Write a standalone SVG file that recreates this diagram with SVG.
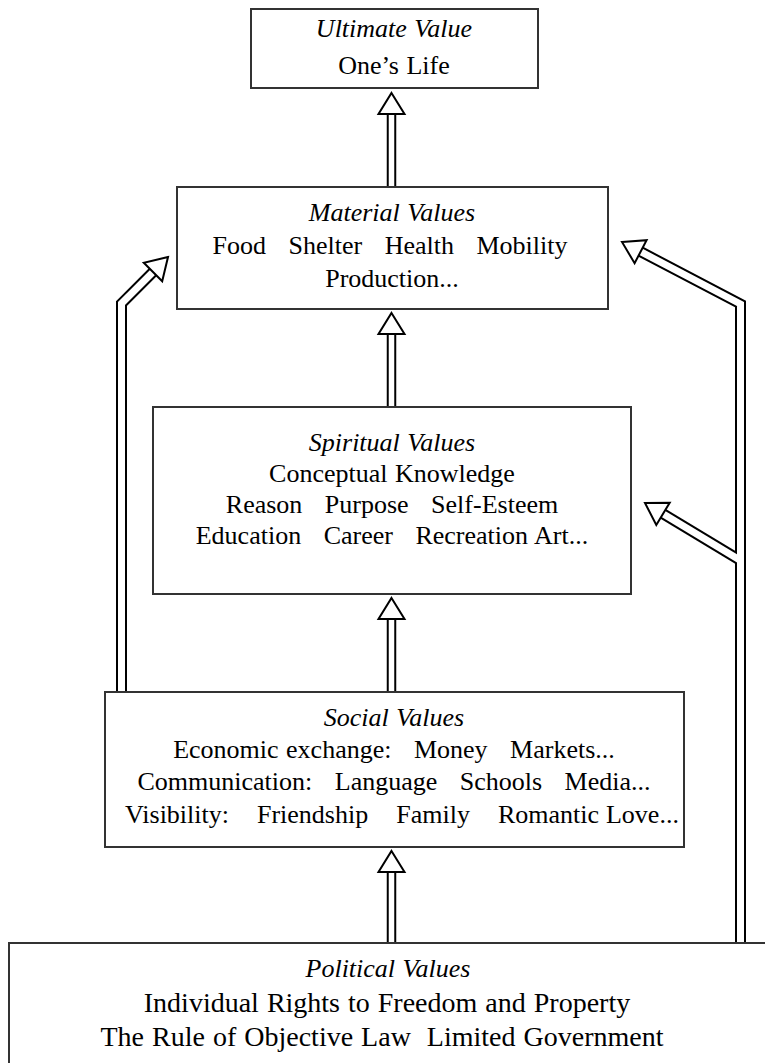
<svg xmlns="http://www.w3.org/2000/svg" width="765" height="1063" viewBox="0 0 765 1063">
  <style>
    .box { fill: #fff; stroke: #333; stroke-width: 2; }
    .t { font-family: "Liberation Serif", "Times New Roman", serif; font-size: 26px; fill: #000; text-anchor: middle; word-spacing: 1px; }
    .ti { font-style: italic; }
    .tl { font-size: 28px; }
    .so { fill: none; stroke: #000; stroke-width: 11; stroke-linejoin: miter; }
    .si { fill: none; stroke: #fff; stroke-width: 7; stroke-linejoin: miter; }
    .vo { fill: none; stroke: #000; stroke-width: 9.5; }
    .vi { fill: none; stroke: #fff; stroke-width: 5.5; }
    .head { fill: #fff; stroke: #000; stroke-width: 2; stroke-linejoin: miter; }
  </style>

  <!-- hollow double-line connectors: dark outline stroke, then white core -->
  <g id="connectors">
    <path class="vo" d="M391.5 187 V114 M391.5 407 V334 M391.5 692 V619 M391.5 943 V872"/>
    <path class="so" d="M121.5 692 V303.5 L153 272"/>
    <path class="so" d="M740.5 943 V304 L640.6 251.7"/>
    <path class="so" d="M740.5 560.5 L663 513.8"/>

    <path class="vi" d="M391.5 187 V114 M391.5 407 V334 M391.5 692 V619 M391.5 943 V872"/>
    <path class="si" d="M121.5 692 V303.5 L153 272"/>
    <path class="si" d="M740.5 943 V304 L640.6 251.7"/>
    <path class="si" d="M740.5 560.5 L663 513.8"/>

    <polygon class="head" points="391.5,93 404.5,114 378.5,114"/>
    <polygon class="head" points="391.5,313 404.5,334 378.5,334"/>
    <polygon class="head" points="391.5,598 404.5,619 378.5,619"/>
    <polygon class="head" points="391.5,851 404.5,872 378.5,872"/>
    <polygon class="head" points="168,257 143.8,262.8 162.2,281.2"/>
    <polygon class="head" points="622,242 646.6,240.2 634.6,263.2"/>
    <polygon class="head" points="645,503 669.7,502.7 656.3,524.9"/>
  </g>

  <g id="ultimate">
    <rect class="box" x="251" y="9" width="287" height="79"/>
    <text class="t ti" x="394" y="37">Ultimate Value</text>
    <text class="t" x="394" y="74">One’s Life</text>
  </g>

  <g id="material">
    <rect class="box" x="177" y="187" width="431" height="122"/>
    <text class="t ti" x="392" y="221">Material Values</text>
    <text class="t" x="390" y="254" xml:space="preserve">Food   Shelter   Health   Mobility</text>
    <text class="t" x="392" y="287">Production...</text>
  </g>

  <g id="spiritual">
    <rect class="box" x="153" y="407" width="478" height="187"/>
    <text class="t ti" x="392" y="451">Spiritual Values</text>
    <text class="t" x="392" y="482">Conceptual Knowledge</text>
    <text class="t" x="392" y="513" xml:space="preserve">Reason   Purpose   Self-Esteem</text>
    <text class="t" x="392" y="544" xml:space="preserve">Education   Career   Recreation Art...</text>
  </g>

  <g id="social">
    <rect class="box" x="105" y="692" width="579" height="155"/>
    <text class="t ti" x="394" y="726">Social Values</text>
    <text class="t" x="394" y="758" xml:space="preserve">Economic exchange:   Money   Markets...</text>
    <text class="t" x="394" y="790" xml:space="preserve">Communication:   Language   Schools   Media...</text>
    <text class="t" x="402" y="823" style="word-spacing:0.5px" xml:space="preserve">Visibility:    Friendship    Family    Romantic Love...</text>
  </g>

  <g id="political">
    <rect class="box" x="9" y="943" width="770" height="140"/>
    <text class="t ti" x="388" y="977">Political Values</text>
    <text class="t tl" x="387" y="1012">Individual Rights to Freedom and Property</text>
    <text class="t tl" x="382" y="1046" xml:space="preserve">The Rule of Objective Law  Limited Government</text>
  </g>
</svg>
